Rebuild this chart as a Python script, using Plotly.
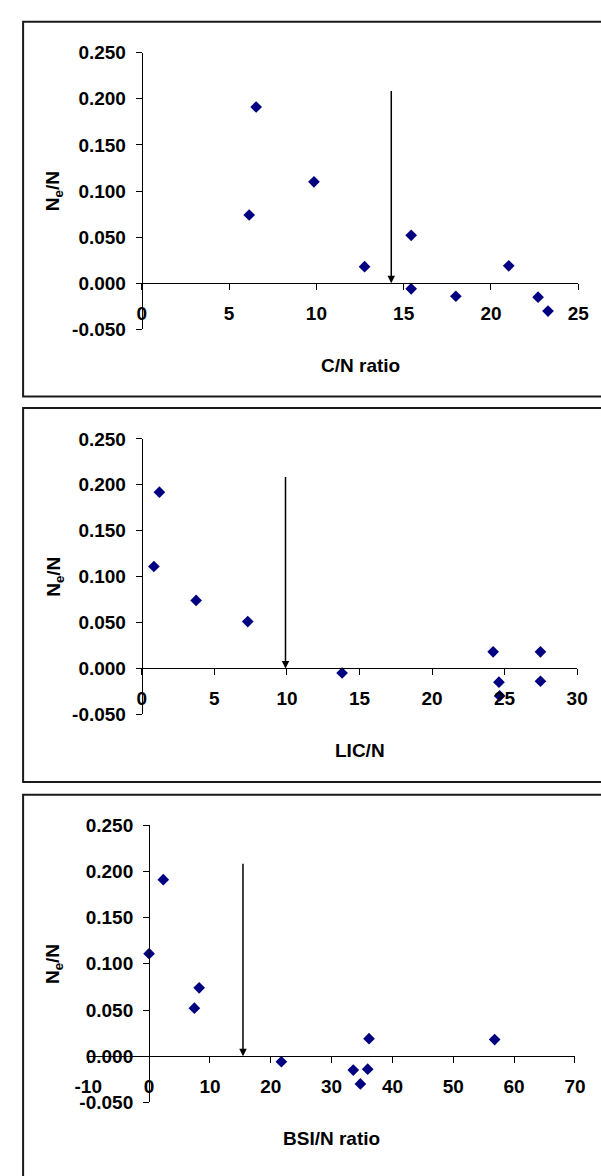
import plotly.graph_objects as go

# Ne/N against three litter-quality ratios
cn_ratio = [6.15, 6.55, 9.86, 12.76, 15.43, 15.43, 17.99, 21.02, 22.70, 23.27]
cn_ne = [0.074, 0.191, 0.110, 0.018, 0.052, -0.006, -0.014, 0.019, -0.015, -0.030]

lic_n = [0.83, 1.21, 3.74, 7.30, 13.80, 24.21, 24.61, 24.66, 27.47, 27.47]
lic_ne = [0.111, 0.192, 0.074, 0.051, -0.005, 0.018, -0.015, -0.030, 0.018, -0.014]

bsi_ratio = [0.0, 2.33, 7.44, 8.23, 21.74, 33.56, 34.73, 35.93, 36.15, 56.80]
bsi_ne = [0.111, 0.191, 0.052, 0.074, -0.006, -0.015, -0.030, -0.014, 0.019, 0.018]

# threshold arrows (x position, top of arrow)
thresholds = [14.29, 9.90, 15.43]
arrow_top = 0.21

y_ticks = [-0.05, 0.0, 0.05, 0.10, 0.15, 0.20, 0.25]
y_ticktext = ["-0.050", "0.000", "0.050", "0.100", "0.150", "0.200", "0.250"]

x_ticks_cn = [0, 5, 10, 15, 20, 25]
x_ticks_lic = [0, 5, 10, 15, 20, 25, 30]
x_ticks_bsi = [-10, 0, 10, 20, 30, 40, 50, 60, 70]

x_titles = ["C/N ratio", "LIC/N", "BSI/N ratio"]
y_title = "N<sub>e</sub>/N"

W, H = 601, 1176
FONT = "Liberation Sans, Arial, sans-serif"
NAVY = "#000080"


def px_x(p):
    return p / W


def px_y(p):
    return 1 - p / H


panels = [
    dict(x=cn_ratio, y=cn_ne, xr=[0, 25], xt=x_ticks_cn,
         xd=[px_x(133.4), px_x(588.7)], yd=[px_y(325.3), px_y(43.3)],
         box=[12, 393.5]),
    dict(x=lic_n, y=lic_ne, xr=[0, 30], xt=x_ticks_lic,
         xd=[px_x(133.4), px_x(587.6)], yd=[px_y(717.1), px_y(436.7)],
         box=[405.3, 786]),
    dict(x=bsi_ratio, y=bsi_ne, xr=[-10, 70], xt=x_ticks_bsi,
         xd=[px_x(77.5), px_x(585.3)], yd=[px_y(1112.3), px_y(830)],
         box=[799, 1190]),
]

yr = [-0.05, 0.25]
fig = go.Figure()
shapes = []
annotations = []
tickfont = dict(family=FONT, size=19, color="black", weight="bold")
titlefont = dict(family=FONT, size=19, color="black", weight="bold")

for i, p in enumerate(panels, start=1):
    sfx = "" if i == 1 else str(i)
    xa, ya = "x" + sfx, "y" + sfx
    fig.add_trace(go.Scatter(
        x=p["x"], y=p["y"], mode="markers", xaxis=xa, yaxis=ya,
        marker=dict(symbol="diamond", size=9, color=NAVY,
                    line=dict(width=0)),
        showlegend=False, cliponaxis=False))

    # x axis crosses at y = 0, y axis crosses at x = 0
    x_pos = p["yd"][0] + (0 - yr[0]) / (yr[1] - yr[0]) * (p["yd"][1] - p["yd"][0])
    y_pos = p["xd"][0] + (0 - p["xr"][0]) / (p["xr"][1] - p["xr"][0]) * (p["xd"][1] - p["xd"][0])

    fig.layout["xaxis" + sfx] = dict(
        domain=p["xd"], range=p["xr"], anchor="free", position=x_pos,
        tickvals=p["xt"], ticktext=[str(v) for v in p["xt"]],
        ticks="outside", ticklen=6, tickwidth=1, tickcolor="black",
        showline=True, linecolor="black", linewidth=1.2,
        showgrid=False, zeroline=False, tickfont=tickfont,
        ticklabelstandoff=7, fixedrange=True)
    fig.layout["yaxis" + sfx] = dict(
        domain=p["yd"], range=yr, anchor="free", position=y_pos,
        tickvals=y_ticks, ticktext=y_ticktext,
        ticks="outside", ticklen=6, tickwidth=1, tickcolor="black",
        showline=True, linecolor="black", linewidth=1.2,
        showgrid=False, zeroline=False, tickfont=tickfont,
        ticklabelstandoff=6, fixedrange=True)

    # threshold arrow
    annotations.append(dict(
        x=thresholds[i - 1], y=0, ax=thresholds[i - 1], ay=arrow_top,
        xref=xa, yref=ya, axref=xa, ayref=ya, text="",
        showarrow=True, arrowhead=2, arrowsize=1, arrowwidth=1.5,
        arrowcolor="black", standoff=0))

    # axis titles
    cx = (p["xd"][0] + p["xd"][1]) / 2
    cy = (p["yd"][0] + p["yd"][1]) / 2
    annotations.append(dict(
        x=cx, y=p["yd"][0] - 37 / H, xref="paper", yref="paper",
        text=x_titles[i - 1], showarrow=False, xanchor="center", yanchor="middle",
        font=titlefont))
    annotations.append(dict(
        x=px_x(42), y=cy, xref="paper", yref="paper", text=y_title,
        textangle=-90, showarrow=False, xanchor="center", yanchor="middle",
        font=titlefont))

    # panel frame
    shapes.append(dict(
        type="rect", xref="paper", yref="paper",
        x0=px_x(9.5), x1=px_x(640), y0=px_y(p["box"][1]), y1=px_y(p["box"][0]),
        line=dict(color="#1a1a1a", width=2), fillcolor="rgba(0,0,0,0)"))

fig.update_layout(
    width=W, height=H, margin=dict(l=0, r=0, t=0, b=0),
    paper_bgcolor="white", plot_bgcolor="white",
    shapes=shapes, annotations=annotations,
    font=dict(family=FONT, color="black"))

fig.write_html("out.html")
